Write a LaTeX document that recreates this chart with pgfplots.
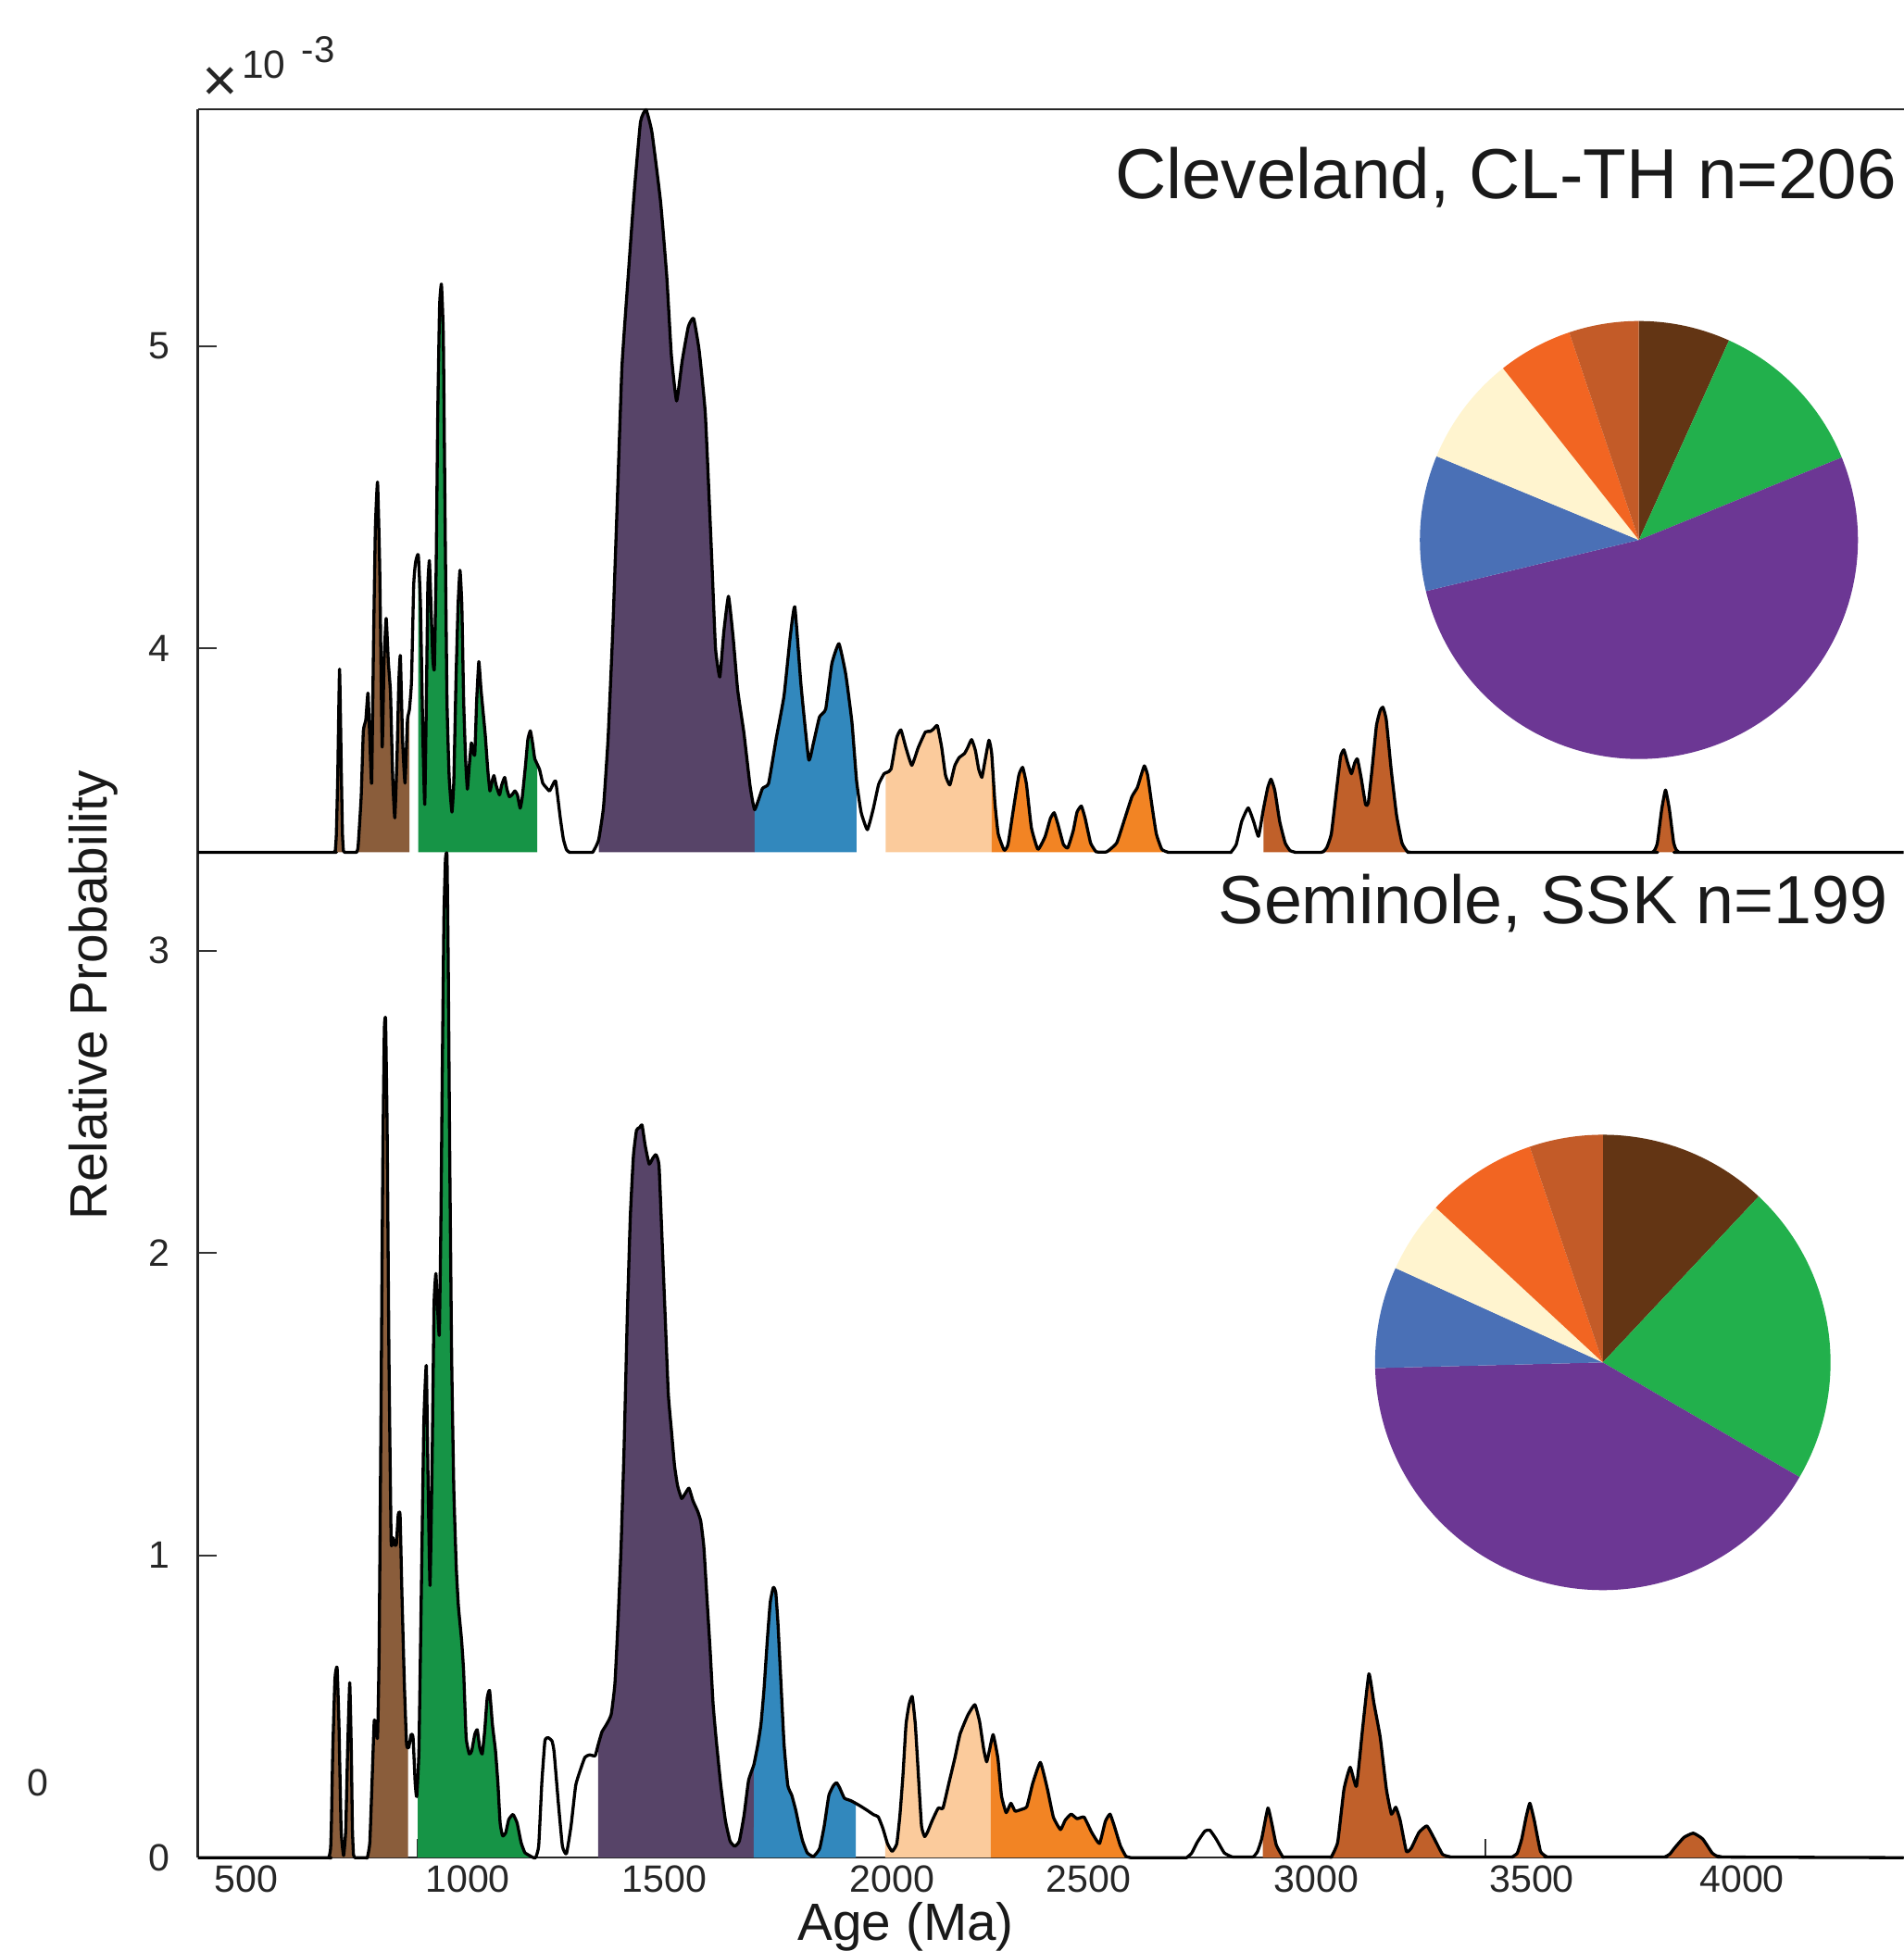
\documentclass[border=0pt]{standalone}
\usepackage{fontspec}
\setmainfont{Liberation Sans}
\usepackage{pgfplots}
\usepackage{pgfplotstable}
\pgfplotsset{compat=1.18}
\usepgfplotslibrary{fillbetween}

\definecolor{fbrown}{HTML}{8A5D3B}
\definecolor{fgreen}{HTML}{169446}
\definecolor{fpurple}{HTML}{574468}
\definecolor{fblue}{HTML}{3288BD}
\definecolor{fpeach}{HTML}{FBCB9C}
\definecolor{forange}{HTML}{F28424}
\definecolor{frust}{HTML}{C0602A}
\definecolor{pbrown}{HTML}{633514}
\definecolor{pgreen}{HTML}{22B04C}
\definecolor{ppurple}{HTML}{6C3794}
\definecolor{pblue}{HTML}{4A70B6}
\definecolor{pcream}{HTML}{FFF4CF}
\definecolor{porange}{HTML}{F26522}
\definecolor{prust}{HTML}{C35B28}

% Cleveland, CL-TH (relative probability x 1e-3, plotted above offset 3.325)
\pgfplotstableread{
x p
386.5 0
700 0
705 0
708 0.005
710.5 0.06
713.7 0.25
718 0.606
722.3 0.25
724.8 0.06
727 0.005
730 0
754 0
757.7 0
761.4 0.019
768.6 0.184
773.6 0.400
779.4 0.438
784.5 0.527
788.8 0.374
793.1 0.229
797.5 0.692
801.8 1.073
806.9 1.225
811.9 0.946
817.7 0.349
822.0 0.628
827.1 0.774
832.2 0.628
837.2 0.527
842.3 0.248
847.3 0.114
852.4 0.311
856.7 0.565
860.3 0.650
865.4 0.374
871.2 0.229
876.9 0.438
881.3 0.470
886.3 0.565
891.4 0.882
895.7 0.958
902.2 0.984
907.3 0.819
913.1 0.374
917.4 0.159
921.7 0.565
924.6 0.882
928.2 0.965
931.9 0.819
936.2 0.641
939.8 0.609
944.1 0.946
947.8 1.454
952.1 1.809
956.4 1.879
960.8 1.707
965.1 1.073
969.4 0.501
974.5 0.248
981.0 0.133
985.3 0.235
990.4 0.565
995.4 0.819
999.8 0.933
1004.1 0.819
1008.4 0.501
1012.8 0.311
1017.1 0.209
1021.5 0.286
1026.5 0.362
1030.1 0.336
1034.5 0.324
1038.8 0.501
1043.9 0.631
1048.9 0.540
1054.0 0.463
1059.0 0.387
1064.8 0.273
1069.9 0.203
1074.9 0.235
1079.3 0.254
1084.3 0.222
1092.3 0.190
1097.3 0.222
1104.5 0.248
1109.6 0.209
1115.4 0.184
1121.2 0.190
1128.4 0.203
1134.2 0.190
1140.7 0.146
1145.7 0.184
1153.0 0.286
1158.7 0.374
1164.5 0.402
1169.6 0.362
1174.6 0.311
1180.4 0.292
1186.2 0.273
1193.4 0.229
1200.6 0.216
1209.3 0.203
1216.5 0.222
1223.8 0.235
1234.5 0.114
1241.7 0.044
1248.9 0.009
1256 0
1260 0
1306 0
1310.3 0
1317.5 0.018
1324.7 0.044
1335.6 0.149
1346.4 0.378
1357.2 0.729
1368.1 1.168
1378.9 1.608
1393.4 1.906
1407.8 2.187
1422.2 2.416
1435.2 2.456
1449.0 2.381
1469.2 2.152
1483.6 1.906
1494.5 1.643
1506.7 1.493
1519.7 1.625
1534.2 1.739
1546.5 1.766
1559.5 1.660
1573.9 1.450
1588.3 0.993
1597.7 0.676
1607.8 0.580
1617.2 0.729
1628.1 0.847
1638.9 0.712
1649.7 0.536
1664.2 0.395
1678.6 0.220
1689.4 0.141
1707.5 0.211
1721.9 0.228
1740.0 0.378
1758.1 0.518
1772.5 0.712
1783.3 0.812
1797.8 0.553
1815.8 0.307
1826.7 0.360
1841.1 0.448
1855.6 0.474
1870.0 0.624
1886.6 0.690
1902.5 0.589
1917.0 0.430
1927.8 0.237
1938.6 0.132
1953.1 0.075
1966.8 0.143
1979.5 0.225
1992.2 0.260
1999.8 0.265
2008.7 0.276
2021.5 0.378
2031.6 0.405
2043.1 0.347
2057.1 0.288
2072.3 0.347
2088.9 0.398
2100.3 0.400
2108.0 0.408
2116.9 0.419
2127.0 0.347
2135.9 0.255
2146.1 0.223
2157.5 0.286
2167.7 0.313
2180.4 0.327
2188.1 0.347
2197.0 0.373
2205.9 0.337
2213.5 0.276
2221.1 0.248
2228.8 0.306
2237.7 0.371
2244.0 0.327
2251.6 0.163
2259.3 0.061
2273.3 0.007
2282.2 0.026
2294.9 0.143
2307.6 0.255
2316.5 0.281
2325.4 0.225
2336.9 0.082
2352.2 0.010
2368.7 0.051
2381.4 0.112
2390.3 0.131
2399.2 0.092
2411.9 0.026
2422.1 0.015
2434.8 0.071
2443.7 0.133
2453.9 0.153
2462.8 0.112
2475.5 0.031
2488.2 0.002
2500.0 0.001
2513.6 0.002
2536.5 0.031
2555.6 0.112
2572.1 0.184
2584.8 0.214
2593.7 0.255
2601.4 0.286
2609.0 0.255
2619.2 0.153
2629.3 0.061
2642.1 0.010
2657.3 0
2662 0
2799 0
2803.6 0
2816.3 0.026
2829.0 0.102
2844.3 0.147
2857.0 0.102
2868.4 0.053
2879.9 0.143
2890.0 0.214
2897.7 0.242
2906.6 0.204
2918.0 0.102
2930.8 0.031
2942.0 0.006
2949.8 0.002
2955 0
3014 0
3019.8 0.002
3028.0 0.015
3038.8 0.061
3051.6 0.214
3060.5 0.317
3068.1 0.339
3077.0 0.296
3085.9 0.260
3093.5 0.296
3099.9 0.309
3108.8 0.245
3119.0 0.158
3125.3 0.163
3134.2 0.276
3144.4 0.419
3153.3 0.470
3159.6 0.480
3167.3 0.439
3178.7 0.276
3191.4 0.123
3204.1 0.031
3216.8 0.002
3230 0
3235 0
3784 0
3789.1 0
3795.0 0.006
3801.8 0.031
3812.0 0.143
3820.9 0.206
3829.8 0.143
3840.0 0.031
3846.0 0.008
3852.7 0
3858 0
4378 0
}\topdata

% Seminole, SSK (relative probability x 1e-3)
\pgfplotstableread{
x p
386.5 0
688 0
693 0
697 0.03
699 0.12
702.1 0.353
707.2 0.592
712.2 0.629
716.6 0.440
721.6 0.093
727.4 0.007
732.5 0.093
736.8 0.353
741.8 0.579
745.5 0.353
748 0.1
750.5 0.01
754.1 0
758 0
779 0
783.0 0
788.8 0.050
793.9 0.245
799.0 0.451
802.5 0.440
806.9 0.397
810.5 0.679
814.8 1.437
819.2 2.305
822.8 2.738
825.7 2.771
829.3 2.413
833.6 1.654
838.7 1.047
843.0 1.058
846.6 1.036
850.9 1.036
855.3 1.134
859.6 1.134
863.9 0.874
869.7 0.570
874.8 0.375
879.8 0.364
885.6 0.408
890.0 0.397
895.0 0.245
898.6 0.202
903.7 0.353
909.5 0.895
915.2 1.437
921.0 1.628
925.4 1.221
929.7 0.900
934.8 1.329
939.1 1.828
943.4 1.932
947.8 1.806
951.4 1.730
955.0 2.088
958.6 2.630
962.2 3.107
965.8 3.302
969.4 3.313
972.3 2.955
975.9 2.305
980.3 1.654
985.3 1.221
991.1 0.960
996.2 0.830
1003.4 0.722
1008.4 0.614
1014.2 0.397
1021.5 0.343
1027.2 0.353
1034.5 0.408
1040.2 0.423
1046.0 0.364
1051.8 0.343
1057.6 0.418
1063.4 0.527
1069.1 0.553
1075.7 0.440
1082.9 0.353
1088.6 0.245
1093.7 0.115
1099.5 0.072
1106.7 0.082
1113.9 0.126
1124.0 0.143
1133.4 0.115
1142.8 0.050
1151.5 0.017
1162.3 0.007
1170.0 0.001
1176.8 0
1184.0 0.039
1191.2 0.245
1198.5 0.386
1205.7 0.397
1215.1 0.386
1220.0 0.350
1229.5 0.189
1239.5 0.038
1248.9 0.013
1259.7 0.105
1270.6 0.239
1281.4 0.290
1292.2 0.332
1303.1 0.340
1316.1 0.337
1323.3 0.374
1332.0 0.416
1342.8 0.441
1353.7 0.474
1362.3 0.575
1369.5 0.777
1376.8 1.029
1384.0 1.365
1391.2 1.785
1398.4 2.121
1405.7 2.322
1412.9 2.406
1420.1 2.415
1425.9 2.423
1433.1 2.356
1442.5 2.294
1451.2 2.314
1458.4 2.325
1465.6 2.289
1472.9 2.037
1480.1 1.785
1487.3 1.533
1494.5 1.415
1501.8 1.297
1509.0 1.230
1518.4 1.188
1527.1 1.205
1535.7 1.222
1545.1 1.180
1555.9 1.146
1563.2 1.113
1570.4 1.029
1577.6 0.861
1584.9 0.693
1592.1 0.508
1599.3 0.391
1610.1 0.240
1621.0 0.122
1631.8 0.055
1642.7 0.038
1653.5 0.055
1664.4 0.139
1675.2 0.256
1687.4 0.307
1696.8 0.374
1704.1 0.441
1711.3 0.558
1718.5 0.710
1725.8 0.844
1733.0 0.894
1738.7 0.878
1743.8 0.777
1751.0 0.575
1758.2 0.374
1766.9 0.239
1776.3 0.206
1785.7 0.156
1794.4 0.097
1801.6 0.055
1812.4 0.016
1826.9 0.004
1841.3 0.030
1852.2 0.105
1863.0 0.206
1873.9 0.239
1881.1 0.248
1888.3 0.231
1899.2 0.197
1913.6 0.189
1924.4 0.181
1938.9 0.169
1953.3 0.156
1967.8 0.142
1978.6 0.135
1989.4 0.097
2000.3 0.046
2011.1 0.021
2021.9 0.046
2029.2 0.139
2036.4 0.273
2043.6 0.441
2050.9 0.508
2058.1 0.533
2065.3 0.441
2072.5 0.273
2079.8 0.105
2087.0 0.070
2094.0 0.085
2105.2 0.124
2119.0 0.164
2130.0 0.164
2143.8 0.246
2157.6 0.328
2170.1 0.409
2188.0 0.471
2204.6 0.506
2215.7 0.450
2225.4 0.358
2232.3 0.317
2239.2 0.358
2247.5 0.407
2258.6 0.328
2266.9 0.205
2277.9 0.149
2289.0 0.180
2298.7 0.154
2312.5 0.159
2326.3 0.169
2340.1 0.246
2358.0 0.315
2374.6 0.226
2388.4 0.134
2405.0 0.093
2416.1 0.124
2429.9 0.144
2443.7 0.129
2460.3 0.134
2478.3 0.083
2496.3 0.047
2510 0.120
2521 0.144
2532 0.100
2545 0.040
2558 0.005
2570 0
2574 0
2696 0
2700 0
2712 0.015
2725.4 0.052
2743.0 0.088
2754.6 0.091
2769.2 0.062
2788.2 0.016
2805.7 0.003
2810 0.002
2852 0.002
2856.8 0.003
2866 0.020
2875.8 0.062
2890.4 0.164
2900.0 0.110
2910.0 0.042
2925.0 0.003
2930 0.002
3034 0.002
3039.2 0.003
3053.8 0.052
3068.4 0.226
3083.0 0.299
3097.6 0.236
3112.2 0.430
3126.8 0.608
3138.5 0.511
3153.1 0.399
3167.7 0.226
3179.4 0.144
3189.6 0.167
3199.8 0.124
3214.4 0.021
3226.1 0.032
3243.6 0.083
3262.5 0.105
3280.0 0.062
3299.0 0.011
3316.6 0.003
3321 0.002
3458 0.002
3462.5 0.003
3474 0.015
3484.4 0.062
3494.6 0.134
3503.4 0.180
3513.6 0.124
3528.2 0.021
3542.8 0.003
3547 0.002
3815 0.002
3820.1 0.003
3831 0.012
3842.0 0.032
3863.9 0.067
3885.8 0.081
3907.8 0.062
3929.7 0.016
3940 0.006
3951.6 0.003
3956 0.002
4378 0
}\botdata

% pie chart: #1,#2 = centre (axis cs), #3 = radius (canvas), #4 = share/colour list (per cent)
\newcommand\piechart[4]{%
  \gdef\pies{0}%
  \foreach \p/\c in {#4}{%
    \pgfmathsetmacro\pie{\pies+3.6*\p}%
    \fill[\c] (axis cs:#1,#2) -- ++({90-\pies}:#3) arc[start angle={90-\pies}, end angle={90-\pie}, radius=#3] -- cycle;%
    \global\let\pies\pie
  }%
}

\begin{document}
\begin{tikzpicture}
\begin{axis}[name=main, at={(0,0)}, anchor=south west,
  scale only axis, width=13.71cm, height=14.05cm,
  xmin=386.4, xmax=4378.8, ymin=0, ymax=5.782,
  axis x line=box, axis y line=left,
  axis line style={-, line width=0.5pt, black!85},
  tick align=inside, xtick pos=bottom, ytick pos=left,
  xtick={900,1400,...,3900}, xticklabels={},
  extra x ticks={500,1018,1478,2011,2471,3004,3508,4000},
  extra x tick labels={500,1000,1500,2000,2500,3000,3500,4000},
  extra x tick style={major tick length=0pt},
  ytick={0,1,2,3,4,5},
  major tick length=0.15cm,
  tick style={black!80, line width=0.4pt},
  ticklabel style={font=\fontsize{8.7}{10}\selectfont, text=black!85},
  xticklabel style={yshift=0.06cm},
  yticklabel style={xshift=-0.10cm},
  /pgf/number format/assume math mode=true,
  clip=false,
]
% baselines
\addplot[draw=none, name path=B0] coordinates {(386.5,0) (4378,0)};
\addplot[draw=none, name path=T0] coordinates {(386.5,3.325) (4378,3.325)};
\addplot[draw=none, name path=B] table[x=x, y=p] {\botdata};
\addplot[draw=none, name path=T] table[x=x, y expr=\thisrow{p}+3.325] {\topdata};

% bottom fills
\addplot[fbrown] fill between[of=B and B0, soft clip={domain=696:754}];
\addplot[fbrown] fill between[of=B and B0, soft clip={domain=783:878.4}];
\addplot[fgreen] fill between[of=B and B0, soft clip={domain=900.8:1165}];
\addplot[fpurple] fill between[of=B and B0, soft clip={domain=1323.3:1687.4}];
\addplot[fblue] fill between[of=B and B0, soft clip={domain=1687.4:1925.9}];
\addplot[fpeach] fill between[of=B and B0, soft clip={domain=1995:2242}];
\addplot[forange] fill between[of=B and B0, soft clip={domain=2242:2560}];
\addplot[frust] fill between[of=B and B0, soft clip={domain=2878.7:3320}];
\addplot[frust] fill between[of=B and B0, soft clip={domain=3465:3545}];
\addplot[frust] fill between[of=B and B0, soft clip={domain=3820:3955}];

% top fills
\addplot[fbrown] fill between[of=T and T0, soft clip={domain=708:727}];
\addplot[fbrown] fill between[of=T and T0, soft clip={domain=757.7:881.3}];
\addplot[fgreen] fill between[of=T and T0, soft clip={domain=902.2:1180.4}];
\addplot[fpurple] fill between[of=T and T0, soft clip={domain=1324.7:1689.4}];
\addplot[fblue] fill between[of=T and T0, soft clip={domain=1689.4:1927.8}];
\addplot[fpeach] fill between[of=T and T0, soft clip={domain=1996:2244}];
\addplot[forange] fill between[of=T and T0, soft clip={domain=2244:2645}];
\addplot[frust] fill between[of=T and T0, soft clip={domain=2879.9:3216.8}];
\addplot[frust] fill between[of=T and T0, soft clip={domain=3789.1:3852.7}];

% curves
\addplot[black, line width=0.7pt, line join=round, smooth, tension=0.25] table[x=x, y=p] {\botdata};
\addplot[black, line width=0.7pt, line join=round, smooth, tension=0.25] table[x=x, y expr=\thisrow{p}+3.325] {\topdata};

% pies (shares in per cent, clockwise from 12 o'clock)
\pgfplotsextra{\piechart{3758.5}{4.358}{1.76cm}{6.75/pbrown,12.1/pgreen,52.4/ppurple,10.0/pblue,8.1/pcream,5.5/porange,5.15/prust}}
\pgfplotsextra{\piechart{3674.1}{1.638}{1.83cm}{12.0/pbrown,21.4/pgreen,41.2/ppurple,7.2/pblue,5.1/pcream,7.9/porange,5.2/prust}}

% texts
\node[anchor=base east, inner sep=0pt, font=\fontsize{16.2}{19}\selectfont, text=black!90] at (rel axis cs:0.9963,0.9488) {Cleveland, CL-TH n=206};
\node[anchor=base east, inner sep=0pt, font=\fontsize{15.6}{19}\selectfont, text=black!90] at (rel axis cs:0.9912,0.5345) {Seminole, SSK n=199};
\node[rotate=90, font=\fontsize{12}{14}\selectfont, text=black!90] at (rel axis cs:-0.0613,0.4932) {Relative Probability};
\node[font=\fontsize{12}{14}\selectfont, text=black!90] at (rel axis cs:0.415,-0.0395) {Age (Ma)};
\node[font=\fontsize{8.7}{10}\selectfont, text=black!85] at (rel axis cs:-0.094,0.0427) {0};
\node[font=\fontsize{14}{14}\selectfont, text=black!85] at (rel axis cs:0.0131,1.0142) {×};
\node[font=\fontsize{9}{10}\selectfont, text=black!85] at (rel axis cs:0.0387,1.0256) {10};
\node[font=\fontsize{8.5}{10}\selectfont, text=black!85] at (rel axis cs:0.0706,1.0342) {-3};
\end{axis}

\pgfresetboundingbox
\path[use as bounding box] (main.south west) ++(-1.59cm,-0.75cm) rectangle ++(15.30cm,15.68cm);
\end{tikzpicture}
\end{document}
